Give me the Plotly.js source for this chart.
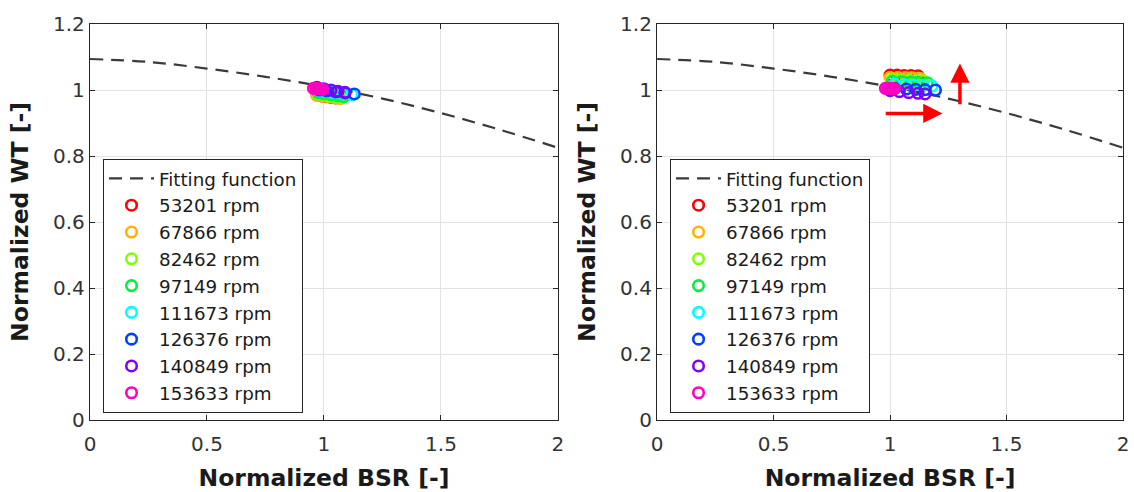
<!DOCTYPE html>
<html>
<head>
<meta charset="utf-8">
<script src="https://cdn.plot.ly/plotly-3.0.1.min.js"></script>
<style>html,body{margin:0;padding:0;background:#fff;}#chart{width:1134px;height:492px;}</style>
</head>
<body>
<div id="chart"></div>
<script>
// ---- data ----
const rpmLabels = ["53201 rpm","67866 rpm","82462 rpm","97149 rpm","111673 rpm","126376 rpm","140849 rpm","153633 rpm"];
const seriesColors = ["#ff0000","#ffb300","#80ff00","#00f040","#00ffff","#0040ff","#8000ff","#ff00bf"];

// fitting function, read at x = 0, 0.25, ..., 2
const fitBSR = [0, 0.25, 0.5, 0.75, 1.0, 1.25, 1.5, 1.75, 2.0];
const fitWT  = [1.094, 1.085, 1.065, 1.040, 1.010, 0.974, 0.930, 0.880, 0.825];

// left panel
const leftBSR_53201  = [0.97, 0.99, 1.01, 1.03, 1.05];
const leftWT_53201   = [0.985, 0.982, 0.980, 0.978, 0.976];
const leftBSR_67866  = [0.97, 0.995, 1.02, 1.045, 1.07];
const leftWT_67866   = [0.984, 0.981, 0.979, 0.977, 0.974];
const leftBSR_82462  = [0.975, 1.0, 1.025, 1.05, 1.075];
const leftWT_82462   = [0.988, 0.985, 0.982, 0.979, 0.977];
const leftBSR_97149  = [0.975, 1.0, 1.03, 1.06, 1.085];
const leftWT_97149   = [0.992, 0.989, 0.986, 0.983, 0.980];
const leftBSR_111673 = [0.98, 1.01, 1.04, 1.08, 1.12];
const leftWT_111673  = [0.998, 0.995, 0.992, 0.989, 0.986];
const leftBSR_126376 = [0.98, 1.01, 1.05, 1.09, 1.13];
const leftWT_126376  = [1.000, 0.997, 0.994, 0.991, 0.988];
const leftBSR_140849 = [0.97, 1.0, 1.03, 1.06, 1.09];
const leftWT_140849  = [1.008, 1.004, 1.000, 0.996, 0.993];
const leftBSR_153633 = [0.955, 0.965, 0.975, 0.985, 0.995];
const leftWT_153633  = [1.005, 1.005, 1.004, 1.003, 1.002];

// right panel
const rightBSR_53201  = [1.0, 1.03, 1.06, 1.09, 1.12];
const rightWT_53201   = [1.045, 1.045, 1.044, 1.044, 1.043];
const rightBSR_67866  = [1.0, 1.035, 1.07, 1.1, 1.13];
const rightWT_67866   = [1.038, 1.038, 1.037, 1.036, 1.035];
const rightBSR_82462  = [1.01, 1.04, 1.08, 1.11, 1.14];
const rightWT_82462   = [1.032, 1.031, 1.030, 1.029, 1.028];
const rightBSR_97149  = [1.01, 1.05, 1.09, 1.12, 1.16];
const rightWT_97149   = [1.026, 1.025, 1.024, 1.023, 1.022];
const rightBSR_111673 = [1.02, 1.06, 1.1, 1.14, 1.18];
const rightWT_111673  = [1.018, 1.016, 1.015, 1.013, 1.012];
const rightBSR_126376 = [1.02, 1.07, 1.11, 1.15, 1.195];
const rightWT_126376  = [1.005, 1.003, 1.002, 1.001, 1.000];
const rightBSR_140849 = [1.0, 1.04, 1.08, 1.12, 1.15];
const rightWT_140849  = [0.998, 0.995, 0.992, 0.990, 0.988];
const rightBSR_153633 = [0.98, 0.99, 1.0, 1.01, 1.02];
const rightWT_153633  = [1.005, 1.005, 1.005, 1.004, 1.004];

// arrows in the right panel: [tailX, tailY, headX, headY]
const arrowBSR = [0.975, 0.929, 1.225, 0.929];
const arrowWT  = [1.30, 0.952, 1.30, 1.080];

const xTicks = [0, 0.5, 1, 1.5, 2];
const yTicks = [0, 0.2, 0.4, 0.6, 0.8, 1, 1.2];

const leftBSR = [leftBSR_53201, leftBSR_67866, leftBSR_82462, leftBSR_97149, leftBSR_111673, leftBSR_126376, leftBSR_140849, leftBSR_153633];
const leftWT  = [leftWT_53201, leftWT_67866, leftWT_82462, leftWT_97149, leftWT_111673, leftWT_126376, leftWT_140849, leftWT_153633];
const rightBSR = [rightBSR_53201, rightBSR_67866, rightBSR_82462, rightBSR_97149, rightBSR_111673, rightBSR_126376, rightBSR_140849, rightBSR_153633];
const rightWT  = [rightWT_53201, rightWT_67866, rightWT_82462, rightWT_97149, rightWT_111673, rightWT_126376, rightWT_140849, rightWT_153633];

// ---- build traces ----
const FONT = "DejaVu Sans, Arial, sans-serif";
const traces = [];
function addPanel(xa, ya, leg, bsr, wt) {
  traces.push({
    x: fitBSR, y: fitWT, xaxis: xa, yaxis: ya, legend: leg,
    type: "scatter", mode: "lines", name: "Fitting function",
    line: {color: "#3a3a3a", width: 2.2, dash: "13px,8px", shape: "spline"}
  });
  for (let i = 0; i < rpmLabels.length; i++) {
    traces.push({
      x: bsr[i], y: wt[i], xaxis: xa, yaxis: ya, legend: leg,
      type: "scatter", mode: "markers", name: rpmLabels[i],
      marker: {symbol: "circle-open", size: 10.5, color: seriesColors[i], line: {width: 2.6, color: seriesColors[i]}}
    });
  }
}
addPanel("x", "y", "legend", leftBSR, leftWT);
addPanel("x2", "y2", "legend2", rightBSR, rightWT);

const tickFont = {family: FONT, size: 20, color: "#333333"};
const titleFont = {family: FONT, size: 23.5, color: "#1a1a1a", weight: "bold"};
function xAxis(domain, anchor) {
  return {
    domain: domain, anchor: anchor, range: [0, 2], tickvals: xTicks,
    showgrid: true, gridcolor: "#e3e3e3", gridwidth: 1, zeroline: false,
    showline: true, linecolor: "#262626", linewidth: 1.2, mirror: "ticks",
    ticks: "inside", ticklen: 5, tickcolor: "#262626", tickfont: tickFont,
    ticklabelstandoff: 6,
    title: {text: "Normalized BSR [-]", font: titleFont, standoff: 16}
  };
}
function yAxis(domain, anchor) {
  return {
    domain: domain, anchor: anchor, range: [0, 1.2], tickvals: yTicks,
    showgrid: true, gridcolor: "#e3e3e3", gridwidth: 1, zeroline: false,
    showline: true, linecolor: "#262626", linewidth: 1.2, mirror: "ticks",
    ticks: "inside", ticklen: 5, tickcolor: "#262626", tickfont: tickFont,
    title: {text: "Normalized WT [-]", font: titleFont, standoff: 17}
  };
}
const legendStyle = (x) => ({
  x: x, y: 0.659, xanchor: "left", yanchor: "top",
  bgcolor: "#ffffff", bordercolor: "#262626", borderwidth: 1,
  font: {family: FONT, size: 18.3, color: "#1a1a1a"},
  itemwidth: 45, tracegroupgap: 0
});

const layout = {
  width: 1134, height: 492,
  margin: {l: 90, r: 11, t: 24, b: 72},
  paper_bgcolor: "#ffffff", plot_bgcolor: "#ffffff",
  showlegend: true,
  xaxis: xAxis([0, 0.453], "y"),
  yaxis: yAxis([0, 1], "x"),
  xaxis2: xAxis([0.549, 1.0], "y2"),
  yaxis2: yAxis([0, 1], "x2"),
  legend: legendStyle(0.0126),
  legend2: legendStyle(0.5615),
  annotations: [
    {xref: "x2", yref: "y2", axref: "x2", ayref: "y2",
     x: arrowBSR[2], y: arrowBSR[3], ax: arrowBSR[0], ay: arrowBSR[1],
     text: "", showarrow: true, arrowhead: 2, arrowsize: 1.1, arrowwidth: 3.5, arrowcolor: "#ff0000", standoff: 0, startstandoff: 0},
    {xref: "x2", yref: "y2", axref: "x2", ayref: "y2",
     x: arrowWT[2], y: arrowWT[3], ax: arrowWT[0], ay: arrowWT[1],
     text: "", showarrow: true, arrowhead: 2, arrowsize: 1.1, arrowwidth: 3.5, arrowcolor: "#ff0000", standoff: 0, startstandoff: 0}
  ]
};

Plotly.newPlot("chart", traces, layout, {displayModeBar: false, staticPlot: true});
</script>
</body>
</html>
